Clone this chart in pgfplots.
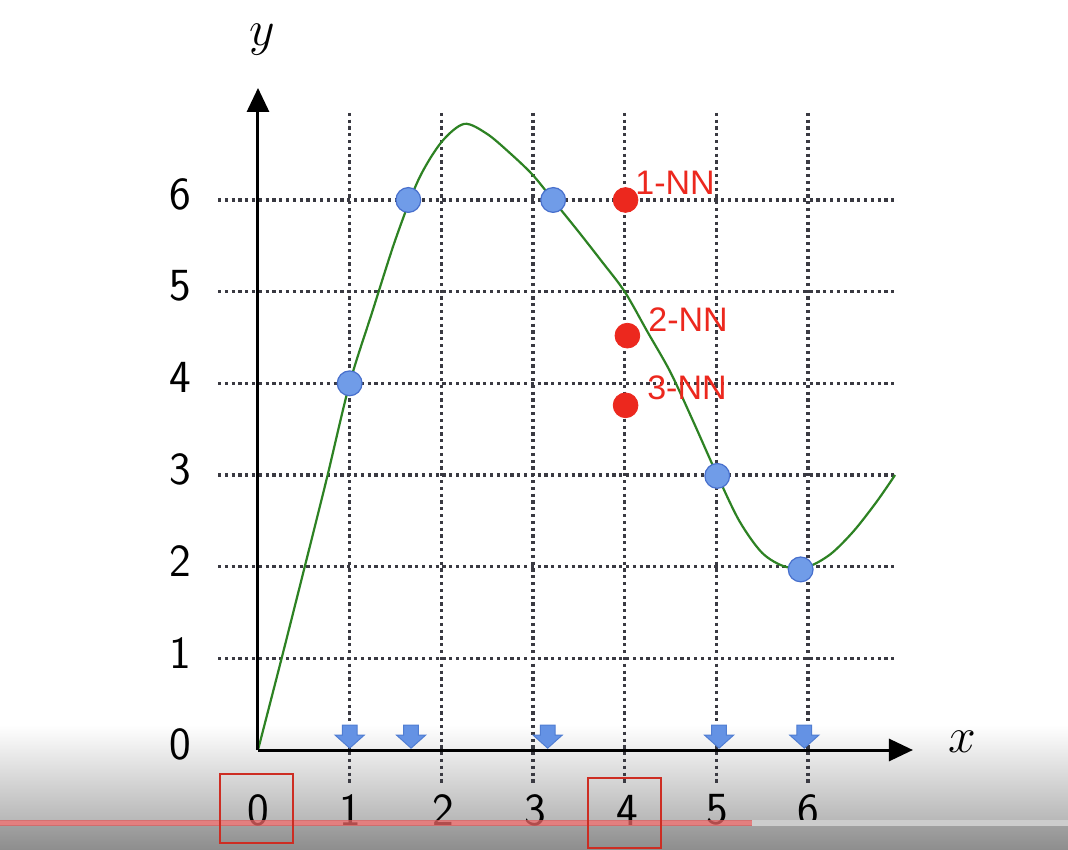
\documentclass[border=0pt]{standalone}
\usepackage{fontspec}
\usepackage{pgfplots}
\pgfplotsset{compat=1.18}
\usetikzlibrary{arrows.meta}
\newfontfamily\nnfont{Liberation Sans}
\definecolor{gridc}{RGB}{58,58,66}
\definecolor{curvec}{RGB}{45,130,35}
\definecolor{ptfill}{RGB}{112,156,232}
\definecolor{ptdraw}{RGB}{72,112,205}
\definecolor{arrfill}{RGB}{100,146,228}
\definecolor{arrdraw}{RGB}{80,125,210}
\definecolor{nnred}{RGB}{236,40,30}
\definecolor{boxred}{RGB}{205,45,35}
\definecolor{barred}{RGB}{222,96,96}
\definecolor{bandgray}{RGB}{184,184,184}
\definecolor{lowtop}{RGB}{160,160,160}
\definecolor{lowbot}{RGB}{142,142,142}
\definecolor{barlight}{RGB}{205,205,205}
\pgfdeclareplotmark{downarrow}{%
  \pgfpathmoveto{\pgfqpoint{0pt}{0pt}}%
  \pgfpathlineto{\pgfqpoint{7.25pt}{6.5pt}}%
  \pgfpathlineto{\pgfqpoint{3.7pt}{6.5pt}}%
  \pgfpathlineto{\pgfqpoint{3.7pt}{11.5pt}}%
  \pgfpathlineto{\pgfqpoint{-3.7pt}{11.5pt}}%
  \pgfpathlineto{\pgfqpoint{-3.7pt}{6.5pt}}%
  \pgfpathlineto{\pgfqpoint{-7.25pt}{6.5pt}}%
  \pgfpathclose
  \pgfusepathqfillstroke}
\tikzset{ticklab/.style={inner sep=0pt, font=\sffamily\fontsize{23pt}{23pt}\selectfont},
  nnlab/.style={anchor=west, inner sep=0pt, text=nnred, font=\nnfont\fontsize{17pt}{17pt}\selectfont},
  gridl/.style={gridc, line width=1.7pt, dash pattern=on 1.6pt off 1.8pt}}
\begin{document}
\begin{tikzpicture}
\begin{axis}[
  scale only axis, width=534pt, height=424.5pt,
  xmin=-2.8145, xmax=8.8364, ymin=-1.080, ymax=8.1816,
  hide axis, clip=false]
% background
\fill[white] (rel axis cs:0,0) rectangle (rel axis cs:1,1);
\shade[top color=white, bottom color=bandgray] (axis cs:-2.8145,0.273) rectangle (axis cs:8.8364,-0.764);
\shade[top color=lowtop, bottom color=lowbot] (axis cs:-2.8145,-0.829) rectangle (axis cs:8.8364,-1.080);
% grid
\pgfplotsinvokeforeach{1,2,3,4,5,6}{
  \draw[gridl] (axis cs:#1,6.95) -- (axis cs:#1,-0.371);
  \draw[gridl] (axis cs:-0.436,#1) -- (axis cs:6.98,#1);
}
% curve
\addplot[curvec, line width=1.1pt, smooth, tension=0.5] coordinates {
 (0,0) (0.25,0.97) (0.5,1.96) (0.75,2.96) (1.0,4.0) (1.25,4.79) (1.5,5.57)
 (1.75,6.22) (2.0,6.63) (2.25,6.83) (2.5,6.72) (2.75,6.51) (3.0,6.27)
 (3.25,5.96) (3.5,5.65) (3.75,5.33) (4.0,5.0) (4.25,4.56) (4.5,4.12)
 (4.75,3.58) (5.0,3.02) (5.25,2.5) (5.5,2.15) (5.75,2.0) (6.0,2.0)
 (6.25,2.14) (6.5,2.39) (6.75,2.71) (6.95,3.0)};
% axes
\draw[black, line width=1.5pt, -{Triangle[length=12pt,width=11pt]}] (axis cs:0,0) -- (axis cs:0,7.222);
\draw[black, line width=1.5pt, -{Triangle[length=12pt,width=11pt]}] (axis cs:0,0) -- (axis cs:7.145,0);
% data points
\addplot[only marks, mark=*, mark size=6.2pt, mark options={fill=ptfill, draw=ptdraw, line width=0.6pt}]
 coordinates {(1,4) (1.64,6) (3.22,6) (5.01,2.99) (5.92,1.97)};
\addplot[only marks, mark=*, mark size=6.2pt, mark options={fill=nnred, draw=nnred}]
 coordinates {(4.01,6.0) (4.03,4.52) (4.01,3.76)};
\addplot[only marks, mark=downarrow, mark options={fill=arrfill, draw=arrdraw, line width=0.5pt}]
 coordinates {(1.0,0.02) (1.67,0.02) (3.16,0.02) (5.03,0.02) (5.96,0.02)};
% NN labels
\node[nnlab] at (axis cs:4.113,6.185) {1-NN};
\node[nnlab] at (axis cs:4.254,4.69) {2-NN};
\node[nnlab] at (axis cs:4.243,3.949) {3-NN};
% axis labels
\node[inner sep=0pt, font=\fontsize{23pt}{23pt}\selectfont] at (axis cs:0.044,7.745) {$y$};
\node[inner sep=0pt, font=\fontsize{23pt}{23pt}\selectfont] at (axis cs:7.68,0.087) {$x$};
% tick labels
\node[ticklab] at (axis cs:-0.851,0.06) {0};
\node[ticklab] at (axis cs:-0.851,1.06) {1};
\node[ticklab] at (axis cs:-0.851,2.06) {2};
\node[ticklab] at (axis cs:-0.851,3.06) {3};
\node[ticklab] at (axis cs:-0.851,4.06) {4};
\node[ticklab] at (axis cs:-0.851,5.06) {5};
\node[ticklab] at (axis cs:-0.851,6.06) {6};
\node[ticklab] at (axis cs:0,-0.655) {0};
\node[ticklab] at (axis cs:1.0036,-0.655) {1};
\node[ticklab] at (axis cs:2.018,-0.655) {2};
\node[ticklab] at (axis cs:3.022,-0.655) {3};
\node[ticklab] at (axis cs:4.025,-0.655) {4};
\node[ticklab] at (axis cs:5.007,-0.655) {5};
\node[ticklab] at (axis cs:6.0,-0.655) {6};
% progress bar
\fill[barlight] (axis cs:5.39,-0.764) rectangle (axis cs:8.8364,-0.829);
\fill[barred, opacity=0.8] (axis cs:-2.8145,-0.764) rectangle (axis cs:5.39,-0.829);
% red boxes
\draw[boxred, line width=1.25pt] (axis cs:-0.415,-0.262) rectangle (axis cs:0.382,-1.015);
\draw[boxred, line width=1.25pt] (axis cs:3.6,-0.305) rectangle (axis cs:4.396,-1.07);
\end{axis}
\end{tikzpicture}
\end{document}
